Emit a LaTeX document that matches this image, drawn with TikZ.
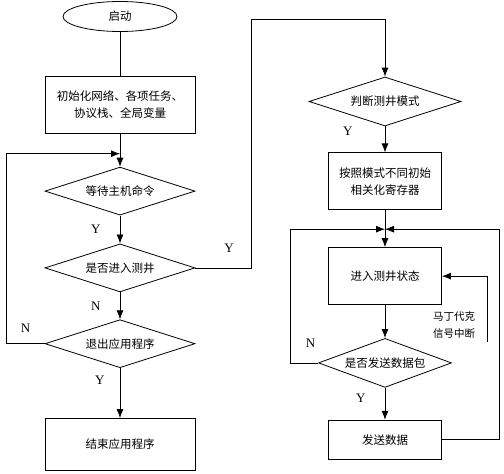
\documentclass[tikz,border=0pt]{standalone}
\usepackage{fontspec}
\usepackage{tikz}
\setmainfont{Liberation Serif}
\newfontfamily\cjk{Noto Sans CJK SC}
\usetikzlibrary{
  arrows.meta,
  shapes.geometric,
  positioning,
  calc
}
\tikzset{
  fcnode/.style={
    draw, line width=0.8pt, inner sep=0pt, align=center,
    font=\cjk\fontsize{11.5}{17}\selectfont
  },
  startnode/.style={fcnode, ellipse, minimum width=114pt, minimum height=30pt},
  procbox/.style={fcnode, rectangle, minimum width=150pt, minimum height=57pt},
  decision/.style={fcnode, diamond, aspect=3, minimum width=150pt, minimum height=48pt},
  flowline/.style={line width=0.8pt},
  flow/.style={flowline, -{Latex[length=9pt,width=7pt]}},
  ynlabel/.style={font=\fontsize{13}{13}\selectfont, inner sep=0pt},
  sidenote/.style={font=\cjk\fontsize{10.5}{17}\selectfont, align=center, inner sep=0pt}
}

\begin{document}
\begin{tikzpicture}
  \useasboundingbox (0,0) rectangle (504pt,-474pt);

  % left column
  \node[startnode] (start) at (120pt,-16.5pt) {启动};
  \node[procbox, below=44pt of start] (init) {初始化网络、各项任务、\\协议栈、全局变量};
  \node[decision, below=33pt of init] (wait) {等待主机命令};
  \node[decision, below=28pt of wait] (enter) {是否进入测井};
  \node[decision, below=27pt of enter] (quit) {退出应用程序};
  \node[procbox, minimum height=52pt, below=50pt of quit] (finish) {结束应用程序};

  % right column
  \node[decision, minimum width=152pt, minimum height=49pt] (mode) at (385pt,-101.5pt) {判断测井模式};
  \node[procbox, minimum width=113pt, below=26pt of mode] (reg) {按照模式不同初始\\相关化寄存器};
  \node[procbox, minimum width=113pt, below=37pt of reg] (state) {进入测井状态};
  \node[decision, minimum width=133pt, minimum height=49pt, below=33pt of state] (send) {是否发送数据包};
  \node[procbox, minimum width=113pt, minimum height=39pt, below=32pt of send] (data) {发送数据};

  \coordinate (waitin) at ($(wait.north)+(0,13pt)$);
  \coordinate (modein) at ($(mode.north)+(0,57pt)$);
  \coordinate (merge) at ($(state.north)+(0,18pt)$);
  \coordinate (irq) at ($(state.east)+(45.5pt,-65.5pt)$);

  \draw[flowline] (start) -- (init);
  \draw[flow] (init) -- (wait);
  \draw[flow] (wait) -- node[ynlabel, left=19pt] {Y} (enter);
  \draw[flow] (enter) -- node[ynlabel, left=19pt] {N} (quit);
  \draw[flow] (quit) -- node[ynlabel, pos=0.25, left=15pt] {Y} (finish);
  \draw[flow] (quit.west) -- node[ynlabel, above=11pt] {N} ++(-38pt,0) |- (waitin);
  \draw[flow] (enter.east) -- node[ynlabel, pos=0.6, above=15pt] {Y} ++(56pt,0) |- (modein) -- (mode.north);

  \draw[flow] (mode) -- node[ynlabel, pos=0.2, left=32pt] {Y} (reg);
  \draw[flow] (reg) -- (state);
  \draw[flow] (state) -- (send);
  \draw[flow] (send) -- node[ynlabel, pos=0.34, left=19pt] {Y} (data);
  \draw[flow] (send.west) -- node[ynlabel, pos=0.27, above=15pt] {N} ++(-28pt,0) |- (merge);
  \draw[flow] (data.east) -- ++(57pt,0) |- (merge);
  \draw[flow] (irq) -- node[sidenote, pos=0.25, left=12pt] {马丁代克\\信号中断} (irq |- state.east) -- (state.east);
\end{tikzpicture}
\end{document}
